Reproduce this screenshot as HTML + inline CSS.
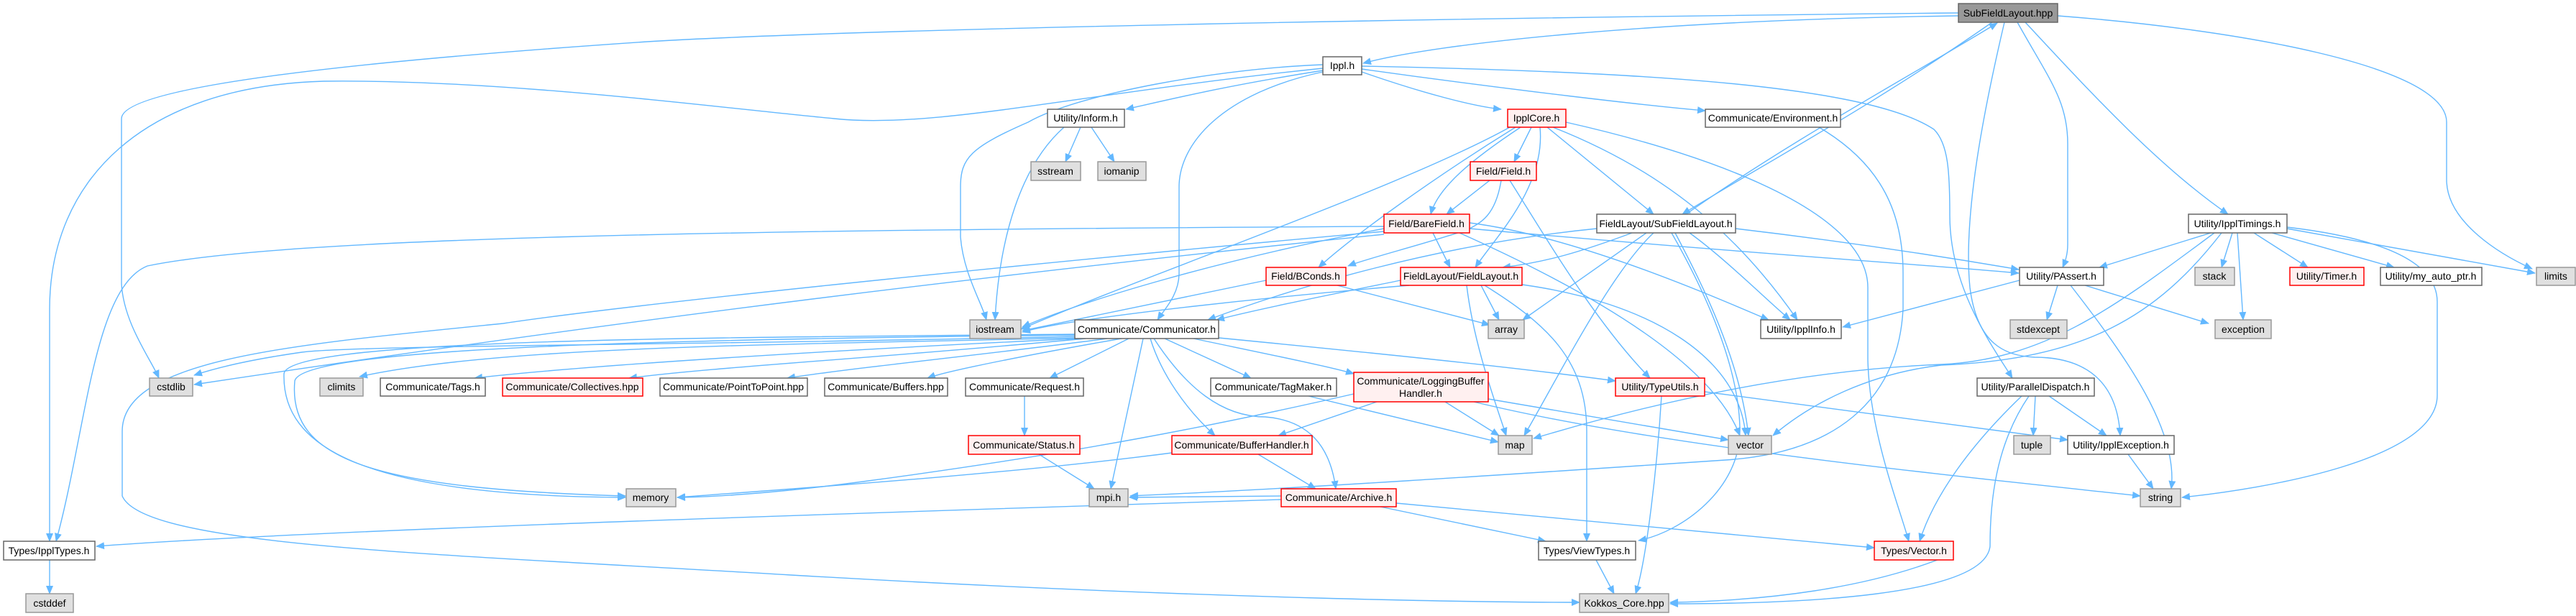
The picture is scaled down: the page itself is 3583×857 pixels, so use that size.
<!DOCTYPE html>
<html><head><meta charset="utf-8"><style>
html,body{margin:0;padding:0;background:#fff;}
svg{display:block;}
text{font-family:"Liberation Sans",Arial,sans-serif;font-size:14px;fill:#000;}
.e{fill:none;stroke:#63b8ff;stroke-width:1.4;}
.w{fill:#fff;stroke:#666;stroke-width:1.5;}
.g{fill:#e0e0e0;stroke:#999;stroke-width:1.5;}
.r{fill:#fff0f0;stroke:#ff0000;stroke-width:1.5;}
.root{fill:#999;stroke:#666;stroke-width:1.5;}
</style></head><body>
<svg width="3583" height="857" viewBox="0 0 3583 857" xmlns="http://www.w3.org/2000/svg">
<defs><marker id="a" markerWidth="12" markerHeight="10" refX="11" refY="5" orient="auto" markerUnits="userSpaceOnUse"><path d="M0,0 L12,5 L0,10 z" fill="#63b8ff"/></marker></defs>
<g marker-end="url(#a)">
<!-- SubFieldLayout.hpp -->
<path class="e" d="M2724,22 C2300,28 2000,60 1896,88"/>
<path class="e" d="M2724,18 C2000,25 1200,40 900,58 C500,85 169,120 169,165 L169,395 C172,450 210,500 221,526"/>
<path class="e" d="M2771,31 C2600,150 2450,230 2340,298"/>
<path class="e" d="M2345,298 C2500,190 2650,110 2778,32"/>
<path class="e" d="M2806,31 C2850,110 2876,140 2876,200 L2876,340 C2876,355 2872,365 2869,372"/>
<path class="e" d="M2817,31 C2900,120 3000,230 3099,298"/>
<path class="e" d="M2862,22 C3100,40 3403,90 3403,170 L3403,250 C3403,310 3480,355 3522,374"/>
<path class="e" d="M2788,31 C2760,150 2730,300 2740,400 C2750,480 2790,495 2830,497 C2900,497 2945,530 2949,606"/>
<!-- Ippl.h -->
<path class="e" d="M1840,95 C1500,130 1300,180 1160,165 C1000,150 700,110 450,113 C200,120 69,250 69,430 L69,753"/>
<path class="e" d="M1840,90 C1700,95 1500,130 1430,170 C1350,205 1336,220 1336,260 L1336,330 C1340,380 1365,420 1372,445"/>
<path class="e" d="M1840,98 C1700,120 1620,140 1566,152"/>
<path class="e" d="M1894,100 C1980,130 2050,148 2088,152"/>
<path class="e" d="M1894,96 C2100,125 2300,148 2372,154"/>
<path class="e" d="M1840,100 C1700,130 1640,200 1640,260 L1640,380 C1640,410 1620,430 1610,445"/>
<path class="e" d="M1894,92 C2300,100 2600,120 2690,180 C2710,200 2712,240 2712,300 C2712,400 2770,480 2799,526"/>
<!-- Inform -->
<path class="e" d="M1480,177 C1420,230 1390,330 1384,445"/>
<path class="e" d="M1503,177 L1482,225"/>
<path class="e" d="M1518,177 L1550,225"/>
<!-- IpplCore -->
<path class="e" d="M2130,177 L2106,225"/>
<path class="e" d="M2115,177 C2050,220 2000,260 1990,298"/>
<path class="e" d="M2108,177 C1990,250 1880,330 1834,372"/>
<path class="e" d="M2142,177 C2150,260 2080,330 2052,372"/>
<path class="e" d="M2152,177 L2300,298"/>
<path class="e" d="M2160,177 C2320,240 2420,330 2500,445"/>
<path class="e" d="M2178,170 C2400,220 2598,300 2598,400 L2598,500 C2600,600 2640,700 2655,753"/>
<path class="e" d="M2100,177 C1950,260 1600,380 1420,458"/>
<!-- Field.h -->
<path class="e" d="M2072,251 L2012,298"/>
<path class="e" d="M2088,251 C2080,300 2060,310 2040,320 C1980,340 1900,360 1875,370"/>
<path class="e" d="M2100,251 C2150,330 2220,450 2295,526"/>
<!-- BareField -->
<path class="e" d="M1993,324 L2017,372"/>
<path class="e" d="M2044,318 C2400,350 2700,370 2808,380"/>
<path class="e" d="M2030,324 C2200,400 2380,500 2420,606"/>
<path class="e" d="M1925,322 C1500,360 900,420 700,450 C400,480 170,500 170,600 L170,690 C200,760 600,770 1100,800 C1700,835 2100,838 2197,838"/>
<path class="e" d="M1925,315 C1000,320 400,330 205,370 C130,400 120,600 78,753"/>
<path class="e" d="M1925,326 C1400,380 900,440 270,535"/>
<path class="e" d="M1925,318 C1700,360 1500,420 1422,455"/>
<path class="e" d="M2044,310 C2200,330 2400,420 2460,445"/>
<!-- SubFieldLayout.h -->
<path class="e" d="M2270,324 C2200,350 2150,365 2090,372"/>
<path class="e" d="M2221,318 C2000,340 1800,400 1680,445"/>
<path class="e" d="M2300,324 C2240,380 2170,520 2120,606"/>
<path class="e" d="M2290,324 L2118,445"/>
<path class="e" d="M2330,324 C2370,400 2420,500 2432,606"/>
<path class="e" d="M2350,324 C2400,360 2460,420 2490,445"/>
<path class="e" d="M2414,318 C2600,340 2750,365 2808,375"/>
<path class="e" d="M2325,324 C2380,420 2420,520 2420,600 C2420,680 2340,740 2279,752"/>
<!-- FieldLayout -->
<path class="e" d="M1948,390 C1850,410 1750,430 1692,445"/>
<path class="e" d="M2060,397 L2085,445"/>
<path class="e" d="M2040,397 C2050,480 2080,560 2095,606"/>
<path class="e" d="M2065,397 C2150,450 2207,500 2207,600 L2207,753"/>
<path class="e" d="M2110,395 C2300,420 2420,500 2428,606"/>
<path class="e" d="M1960,397 C1800,410 1500,440 1422,462"/>
<!-- BConds -->
<path class="e" d="M1761,390 L1422,460"/>
<path class="e" d="M1860,397 L2072,452"/>
<!-- Communicator -->
<path class="e" d="M1495,468 C1000,480 500,480 420,490 C350,500 300,512 270,522"/>
<path class="e" d="M1495,470 C1100,480 700,480 500,524"/>
<path class="e" d="M1500,471 C1100,490 800,510 660,526"/>
<path class="e" d="M1510,471 C1200,500 1000,510 875,526"/>
<path class="e" d="M1540,471 C1400,490 1200,510 1095,526"/>
<path class="e" d="M1560,471 C1450,490 1320,515 1290,526"/>
<path class="e" d="M1570,471 L1460,526"/>
<path class="e" d="M1620,471 L1740,526"/>
<path class="e" d="M1660,471 C1750,490 1850,510 1883,520"/>
<path class="e" d="M1695,470 C1900,490 2100,510 2247,530"/>
<path class="e" d="M1600,471 C1615,520 1650,570 1690,606"/>
<path class="e" d="M1590,471 L1545,680"/>
<path class="e" d="M1605,471 C1650,540 1700,580 1760,580 C1820,585 1850,620 1858,680"/>
<path class="e" d="M1495,465 C1000,470 400,470 395,520 C392,620 500,690 870,692"/>
<path class="e" d="M1495,466 C1000,472 420,480 410,530 C400,640 520,680 870,690"/>
<!-- others -->
<path class="e" d="M1425,551 L1425,606"/>
<path class="e" d="M1445,632 L1522,680"/>
<path class="e" d="M1630,630 C1400,660 1100,680 942,692"/>
<path class="e" d="M1750,632 L1830,680"/>
<path class="e" d="M1883,548 C1700,590 1500,630 1200,670 C1050,690 960,692 942,692"/>
<path class="e" d="M1915,559 L1778,606"/>
<path class="e" d="M2010,559 L2085,606"/>
<path class="e" d="M2070,555 L2404,612"/>
<path class="e" d="M2050,559 C2300,620 2700,660 2977,690"/>
<path class="e" d="M1820,551 L2084,615"/>
<path class="e" d="M1782,695 C1000,720 400,740 134,760"/>
<path class="e" d="M1920,705 L2150,753"/>
<path class="e" d="M1942,700 L2607,762"/>
<path class="e" d="M1782,690 L1571,692"/>
<path class="e" d="M2311,551 C2305,650 2290,780 2275,826"/>
<path class="e" d="M2371,545 L2876,612"/>
<path class="e" d="M2220,779 L2245,826"/>
<path class="e" d="M2717,770 C2600,820 2450,836 2323,838"/>
<!-- IpplTimings -->
<path class="e" d="M3075,324 L2920,372"/>
<path class="e" d="M3105,324 L3090,372"/>
<path class="e" d="M3135,324 L3210,372"/>
<path class="e" d="M3160,324 L3330,372"/>
<path class="e" d="M3181,318 L3526,380"/>
<path class="e" d="M3112,324 L3120,445"/>
<path class="e" d="M3181,316 C3300,330 3390,360 3390,420 L3390,550 C3390,640 3150,680 3035,692"/>
<path class="e" d="M3080,324 C2950,420 2850,500 2700,507 C2500,515 2300,560 2133,610"/>
<path class="e" d="M3090,324 C3000,440 2900,500 2700,508 C2600,520 2520,560 2466,606"/>
<!-- PAssert -->
<path class="e" d="M2862,397 L2847,445"/>
<path class="e" d="M2809,390 L2563,455"/>
<path class="e" d="M2900,397 L3072,450"/>
<path class="e" d="M2880,397 C2960,500 3030,600 3020,680"/>
<!-- ParallelDispatch -->
<path class="e" d="M2831,551 L2828,606"/>
<path class="e" d="M2850,551 L2930,606"/>
<path class="e" d="M2812,551 C2740,620 2690,690 2670,753"/>
<path class="e" d="M2822,551 C2775,620 2768,700 2768,760 C2760,830 2500,840 2323,840"/>
<path class="e" d="M2960,632 L2995,680"/>
<!-- Environment -->
<path class="e" d="M2530,177 C2620,230 2647,300 2647,380 L2647,430 C2640,560 2550,630 2400,640 C2100,660 1800,680 1572,690"/>
<!-- Types/IpplTypes -->
<path class="e" d="M69,779 L69,826"/>
</g>
<!-- nodes -->
<g>
<rect class="root" x="2724" y="5" width="138" height="26"/><text x="2793" y="23" text-anchor="middle">SubFieldLayout.hpp</text>
<rect class="w" x="1840" y="79" width="54" height="25"/><text x="1867" y="96" text-anchor="middle">Ippl.h</text>
<rect class="w" x="1457" y="152" width="107" height="25"/><text x="1510" y="169" text-anchor="middle">Utility/Inform.h</text>
<rect class="r" x="2097" y="152" width="81" height="25"/><text x="2137" y="169" text-anchor="middle">IpplCore.h</text>
<rect class="w" x="2372" y="152" width="188" height="25"/><text x="2466" y="169" text-anchor="middle">Communicate/Environment.h</text>
<rect class="g" x="1434" y="225" width="69" height="26"/><text x="1468" y="243" text-anchor="middle">sstream</text>
<rect class="g" x="1527" y="225" width="67" height="26"/><text x="1560" y="243" text-anchor="middle">iomanip</text>
<rect class="r" x="2045" y="225" width="92" height="26"/><text x="2091" y="243" text-anchor="middle">Field/Field.h</text>
<rect class="r" x="1925" y="298" width="119" height="26"/><text x="1984" y="316" text-anchor="middle">Field/BareField.h</text>
<rect class="w" x="2221" y="298" width="193" height="26"/><text x="2317" y="316" text-anchor="middle">FieldLayout/SubFieldLayout.h</text>
<rect class="w" x="3044" y="298" width="137" height="26"/><text x="3112" y="316" text-anchor="middle">Utility/IpplTimings.h</text>
<rect class="r" x="1761" y="372" width="111" height="25"/><text x="1816" y="389" text-anchor="middle">Field/BConds.h</text>
<rect class="r" x="1948" y="372" width="169" height="25"/><text x="2032" y="389" text-anchor="middle">FieldLayout/FieldLayout.h</text>
<rect class="w" x="2809" y="372" width="117" height="25"/><text x="2867" y="389" text-anchor="middle">Utility/PAssert.h</text>
<rect class="g" x="3053" y="372" width="55" height="25"/><text x="3080" y="389" text-anchor="middle">stack</text>
<rect class="r" x="3185" y="372" width="103" height="25"/><text x="3236" y="389" text-anchor="middle">Utility/Timer.h</text>
<rect class="w" x="3311" y="372" width="141" height="25"/><text x="3381" y="389" text-anchor="middle">Utility/my_auto_ptr.h</text>
<rect class="g" x="3528" y="372" width="54" height="25"/><text x="3555" y="389" text-anchor="middle">limits</text>
<rect class="g" x="1349" y="445" width="71" height="26"/><text x="1384" y="463" text-anchor="middle">iostream</text>
<rect class="w" x="1495" y="445" width="200" height="26"/><text x="1595" y="463" text-anchor="middle">Communicate/Communicator.h</text>
<rect class="g" x="2070" y="445" width="50" height="26"/><text x="2095" y="463" text-anchor="middle">array</text>
<rect class="w" x="2449" y="445" width="112" height="26"/><text x="2505" y="463" text-anchor="middle">Utility/IpplInfo.h</text>
<rect class="g" x="2796" y="445" width="79" height="26"/><text x="2835" y="463" text-anchor="middle">stdexcept</text>
<rect class="g" x="3081" y="445" width="78" height="26"/><text x="3120" y="463" text-anchor="middle">exception</text>
<rect class="g" x="208" y="526" width="60" height="25"/><text x="238" y="543" text-anchor="middle">cstdlib</text>
<rect class="g" x="445" y="526" width="60" height="25"/><text x="475" y="543" text-anchor="middle">climits</text>
<rect class="w" x="529" y="526" width="146" height="25"/><text x="602" y="543" text-anchor="middle">Communicate/Tags.h</text>
<rect class="r" x="699" y="526" width="195" height="25"/><text x="796" y="543" text-anchor="middle">Communicate/Collectives.hpp</text>
<rect class="w" x="918" y="526" width="205" height="25"/><text x="1020" y="543" text-anchor="middle">Communicate/PointToPoint.hpp</text>
<rect class="w" x="1147" y="526" width="171" height="25"/><text x="1232" y="543" text-anchor="middle">Communicate/Buffers.hpp</text>
<rect class="w" x="1343" y="526" width="164" height="25"/><text x="1425" y="543" text-anchor="middle">Communicate/Request.h</text>
<rect class="w" x="1684" y="526" width="175" height="25"/><text x="1771" y="543" text-anchor="middle">Communicate/TagMaker.h</text>
<rect class="r" x="1883" y="518" width="187" height="41"/><text x="1976" y="535" text-anchor="middle">Communicate/LoggingBuffer</text><text x="1976" y="552" text-anchor="middle">Handler.h</text>
<rect class="r" x="2247" y="526" width="124" height="25"/><text x="2309" y="543" text-anchor="middle">Utility/TypeUtils.h</text>
<rect class="w" x="2750" y="526" width="163" height="25"/><text x="2831" y="543" text-anchor="middle">Utility/ParallelDispatch.h</text>
<rect class="r" x="1347" y="606" width="155" height="26"/><text x="1424" y="624" text-anchor="middle">Communicate/Status.h</text>
<rect class="r" x="1630" y="606" width="195" height="26"/><text x="1727" y="624" text-anchor="middle">Communicate/BufferHandler.h</text>
<rect class="g" x="2084" y="606" width="47" height="26"/><text x="2107" y="624" text-anchor="middle">map</text>
<rect class="g" x="2404" y="606" width="60" height="26"/><text x="2434" y="624" text-anchor="middle">vector</text>
<rect class="g" x="2801" y="606" width="51" height="26"/><text x="2826" y="624" text-anchor="middle">tuple</text>
<rect class="w" x="2876" y="606" width="148" height="26"/><text x="2950" y="624" text-anchor="middle">Utility/IpplException.h</text>
<rect class="g" x="871" y="680" width="69" height="25"/><text x="905" y="697" text-anchor="middle">memory</text>
<rect class="g" x="1515" y="680" width="54" height="25"/><text x="1542" y="697" text-anchor="middle">mpi.h</text>
<rect class="r" x="1782" y="680" width="160" height="25"/><text x="1862" y="697" text-anchor="middle">Communicate/Archive.h</text>
<rect class="g" x="2977" y="680" width="56" height="25"/><text x="3005" y="697" text-anchor="middle">string</text>
<rect class="w" x="5" y="753" width="127" height="26"/><text x="68" y="771" text-anchor="middle">Types/IpplTypes.h</text>
<rect class="w" x="2140" y="753" width="135" height="26"/><text x="2207" y="771" text-anchor="middle">Types/ViewTypes.h</text>
<rect class="r" x="2607" y="753" width="110" height="26"/><text x="2662" y="771" text-anchor="middle">Types/Vector.h</text>
<rect class="g" x="36" y="826" width="66" height="26"/><text x="69" y="844" text-anchor="middle">cstddef</text>
<rect class="g" x="2197" y="826" width="124" height="26"/><text x="2259" y="844" text-anchor="middle">Kokkos_Core.hpp</text>
</g>
</svg>
</body></html>
